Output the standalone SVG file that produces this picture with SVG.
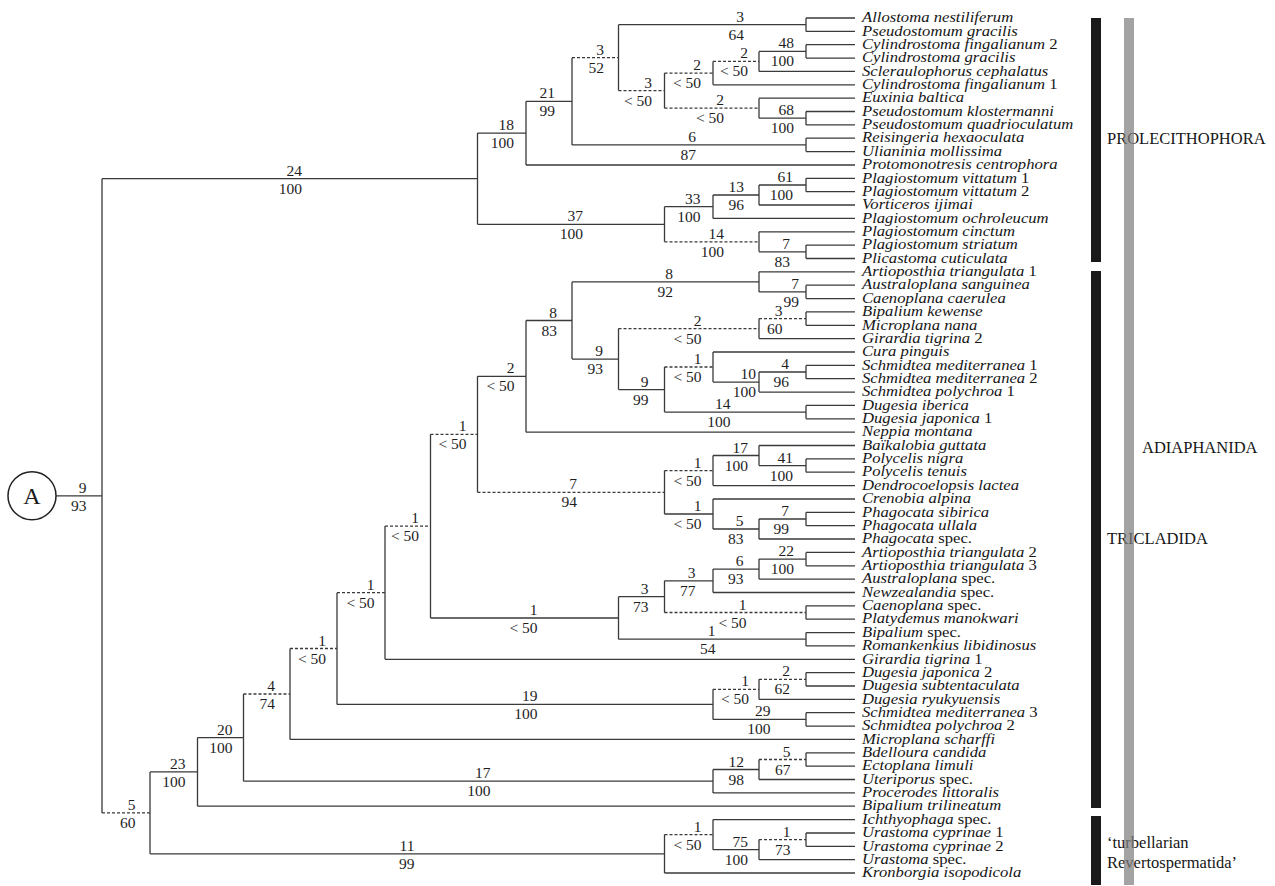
<svg xmlns="http://www.w3.org/2000/svg" width="1275" height="886" viewBox="0 0 1275 886">
<style>
.b{stroke:#3a3a3a;stroke-width:1.3;fill:none}
.d{stroke:#3a3a3a;stroke-width:1.3;fill:none;stroke-dasharray:3 2}
.n{font-family:"Liberation Serif","Times New Roman",serif;font-size:15.5px;fill:#1e1e1e;text-anchor:end}
.s{font-family:"Liberation Serif","Times New Roman",serif;font-size:14px;font-style:italic;fill:#161616}
.r{font-style:normal}
.c{font-family:"Liberation Serif","Times New Roman",serif;font-size:16.5px;fill:#161616}
</style>
<rect width="1275" height="886" fill="#fff"/>
<g id="connectors">
<path class="b" d="M102 178.7V812.9M477.5 133.1V224.3M526 101.3V165M572 57.7V144.9M618.5 24.7V90.6M806 18V31.4M664.5 73.1V108.2M713 61.4V84.8M759 51.4V71.4M806 44.7V58.1M759 98.2V118.2M806 111.5V124.9M806 138.2V151.6M664.5 206.7V241.8M713 195V218.4M759 185V205M806 178.3V191.7M759 231.8V251.8M806 245.1V258.5M150 771.9V853.8M197.5 737.6V806.2M243.5 694V781.2M290 648.5V739.4M337 592.7V704.4M385 526.1V659.3M430.5 434.3V618M477.5 376.3V492.3M526 320.5V432.2M572 281.9V359.1M759 271.8V291.9M806 285.2V298.6M618.5 328.6V389.6M759 318.6V338.6M806 311.9V325.3M664.5 367V412.1M713 352V382.1M759 372V392.1M806 365.4V378.7M806 405.4V418.8M664.5 470.6V514M713 455.5V485.6M759 445.5V465.6M806 458.9V472.2M713 499V529M759 519V539M806 512.3V525.7M618.5 596.7V639.2M664.5 580.8V612.5M713 569.1V592.5M759 559.1V579.1M806 552.4V565.8M806 605.8V619.2M806 632.6V645.9M713 689.3V719.4M759 679.3V699.4M806 672.6V686M806 712.7V726.1M713 769.5V792.9M759 759.5V779.5M806 752.8V766.2M664.5 834.6V873M713 819.6V849.7M759 839.6V859.7M806 833V846.3"/>
<path class="b" d="M56 495.8H102M102 178.7H477.5M477.5 133.1H526M477.5 224.3H664.5M526 101.3H572M526 165H855M572 144.9H806M618.5 24.7H806M713 84.8H855M759 51.4H806M759 71.4H855M759 98.2H855M759 118.2H806M664.5 206.7H713M713 195H759M713 218.4H855M759 185H806M759 205H855M759 231.8H855M759 251.8H806M150 771.9H197.5M150 853.8H664.5M664.5 873H855M713 819.6H855M713 849.7H759M759 859.7H855M197.5 737.6H243.5M197.5 806.2H855M243.5 781.2H713M713 769.5H759M713 792.9H855M759 779.5H855M290 739.4H855M337 704.4H713M713 719.4H806M759 699.4H855M385 659.3H855M430.5 618H618.5M618.5 596.7H664.5M618.5 639.2H806M664.5 580.8H713M713 569.1H759M713 592.5H855M759 559.1H806M759 579.1H855M477.5 376.3H526M664.5 514H713M713 455.5H759M713 485.6H855M759 445.5H855M759 465.6H806M713 499H855M713 529H759M759 519H806M759 539H855M526 320.5H572M526 432.2H855M572 281.9H759M572 359.1H618.5M759 271.8H855M759 291.9H806M759 338.6H855M618.5 389.6H664.5M664.5 412.1H806M713 352H855M713 382.1H759M759 372H806M759 392.1H855"/>
<path class="b" d="M806 18H855M806 31.4H855M806 44.7H855M806 58.1H855M806 111.5H855M806 124.9H855M806 138.2H855M806 151.6H855M806 178.3H855M806 191.7H855M806 245.1H855M806 258.5H855M806 285.2H855M806 298.6H855M806 311.9H855M806 325.3H855M806 365.4H855M806 378.7H855M806 405.4H855M806 418.8H855M806 458.9H855M806 472.2H855M806 512.3H855M806 525.7H855M806 552.4H855M806 565.8H855M806 605.8H855M806 619.2H855M806 632.6H855M806 645.9H855M806 672.6H855M806 686H855M806 712.7H855M806 726.1H855M806 752.8H855M806 766.2H855M806 833H855M806 846.3H855"/>
<path class="d" d="M102 812.9H150M572 57.7H618.5M618.5 90.6H664.5M664.5 73.1H713M713 61.4H759M664.5 108.2H759M664.5 241.8H759M664.5 834.6H713M759 839.6H806M243.5 694H290M759 759.5H806M290 648.5H337M713 689.3H759M759 679.3H806M337 592.7H385M385 526.1H430.5M430.5 434.3H477.5M664.5 612.5H806M477.5 492.3H664.5M664.5 470.6H713M618.5 328.6H759M759 318.6H806M664.5 367H713"/>
</g>
<g id="root-A">
<circle cx="32" cy="495.8" r="24" fill="none" stroke="#222" stroke-width="1.5"/>
<text x="32" y="504" font-family="Liberation Serif, serif" font-size="24" text-anchor="middle" fill="#1a1a1a">A</text>
</g>
<g id="branch-labels" class="n">
<g id="n-R"><text x="86.5" y="492.8">9</text><text x="86.5" y="510.8">93</text></g>
<g id="n-P"><text x="302" y="175.7">24</text><text x="302" y="193.7">100</text></g>
<g id="n-P18"><text x="514" y="130.1">18</text><text x="514" y="148.1">100</text></g>
<g id="n-P21"><text x="555" y="98.3">21</text><text x="555" y="116.3">99</text></g>
<g id="n-P3a"><text x="604" y="54.7">3</text><text x="604" y="72.7">52</text></g>
<g id="n-P3b"><text x="744" y="21.7">3</text><text x="744" y="39.7">64</text></g>
<g id="n-P3c"><text x="652" y="87.6">3</text><text x="652" y="105.6">&lt; 50</text></g>
<g id="n-P2a"><text x="701" y="70.1">2</text><text x="701" y="88.1">&lt; 50</text></g>
<g id="n-P2b"><text x="748" y="58.4">2</text><text x="748" y="76.4">&lt; 50</text></g>
<g id="n-P48"><text x="794" y="48.4">48</text><text x="794" y="66.4">100</text></g>
<g id="n-P2c"><text x="724" y="105.2">2</text><text x="724" y="123.2">&lt; 50</text></g>
<g id="n-P68"><text x="794" y="115.2">68</text><text x="794" y="133.2">100</text></g>
<g id="n-P6"><text x="696" y="141.9">6</text><text x="696" y="159.9">87</text></g>
<g id="n-P37"><text x="583" y="221.3">37</text><text x="583" y="239.3">100</text></g>
<g id="n-P33"><text x="700.5" y="203.7">33</text><text x="700.5" y="221.7">100</text></g>
<g id="n-P13"><text x="744" y="192">13</text><text x="744" y="210">96</text></g>
<g id="n-P61"><text x="793" y="182">61</text><text x="793" y="200">100</text></g>
<g id="n-P14"><text x="724" y="238.8">14</text><text x="724" y="256.8">100</text></g>
<g id="n-P7"><text x="790" y="248.8">7</text><text x="790" y="266.8">83</text></g>
<g id="n-N5"><text x="135.5" y="809.9">5</text><text x="135.5" y="827.9">60</text></g>
<g id="n-N23"><text x="185.5" y="768.9">23</text><text x="185.5" y="786.9">100</text></g>
<g id="n-N20"><text x="232.5" y="734.6">20</text><text x="232.5" y="752.6">100</text></g>
<g id="n-N4"><text x="275" y="691">4</text><text x="275" y="709">74</text></g>
<g id="n-N1a"><text x="326" y="645.5">1</text><text x="326" y="663.5">&lt; 50</text></g>
<g id="n-N1b"><text x="374.5" y="589.7">1</text><text x="374.5" y="607.7">&lt; 50</text></g>
<g id="n-N1c"><text x="419" y="523.1">1</text><text x="419" y="541.1">&lt; 50</text></g>
<g id="n-N1d"><text x="466.5" y="431.3">1</text><text x="466.5" y="449.3">&lt; 50</text></g>
<g id="n-N2"><text x="514.5" y="373.3">2</text><text x="514.5" y="391.3">&lt; 50</text></g>
<g id="n-N8"><text x="557" y="317.5">8</text><text x="557" y="335.5">83</text></g>
<g id="n-N8b"><text x="673" y="278.9">8</text><text x="673" y="296.9">92</text></g>
<g id="n-N7b"><text x="799" y="288.9">7</text><text x="799" y="306.9">99</text></g>
<g id="n-N9"><text x="603" y="356.1">9</text><text x="603" y="374.1">93</text></g>
<g id="n-N2b"><text x="701.5" y="325.6">2</text><text x="701.5" y="343.6">&lt; 50</text></g>
<g id="n-N3"><text x="782.5" y="315.6">3</text><text x="782.5" y="333.6">60</text></g>
<g id="n-N9b"><text x="648.5" y="386.6">9</text><text x="648.5" y="404.6">99</text></g>
<g id="n-N1f"><text x="701.5" y="364">1</text><text x="701.5" y="382">&lt; 50</text></g>
<g id="n-N10"><text x="756" y="379.1">10</text><text x="756" y="397.1">100</text></g>
<g id="n-N4b"><text x="789" y="369">4</text><text x="789" y="387">96</text></g>
<g id="n-N14"><text x="730.5" y="409.1">14</text><text x="730.5" y="427.1">100</text></g>
<g id="n-N7"><text x="577" y="489.3">7</text><text x="577" y="507.3">94</text></g>
<g id="n-C1"><text x="701.5" y="467.6">1</text><text x="701.5" y="485.6">&lt; 50</text></g>
<g id="n-C17"><text x="748" y="452.5">17</text><text x="748" y="470.5">100</text></g>
<g id="n-C41"><text x="793" y="462.6">41</text><text x="793" y="480.6">100</text></g>
<g id="n-C1b"><text x="701.5" y="511">1</text><text x="701.5" y="529">&lt; 50</text></g>
<g id="n-C5"><text x="743.5" y="526">5</text><text x="743.5" y="544">83</text></g>
<g id="n-C7"><text x="789" y="516">7</text><text x="789" y="534">99</text></g>
<g id="n-N1e"><text x="537.5" y="615">1</text><text x="537.5" y="633">&lt; 50</text></g>
<g id="n-T3"><text x="648.5" y="593.7">3</text><text x="648.5" y="611.7">73</text></g>
<g id="n-T3b"><text x="695.5" y="577.8">3</text><text x="695.5" y="595.8">77</text></g>
<g id="n-T6"><text x="743.5" y="566.1">6</text><text x="743.5" y="584.1">93</text></g>
<g id="n-T22"><text x="794" y="556.1">22</text><text x="794" y="574.1">100</text></g>
<g id="n-T1c"><text x="746.5" y="609.5">1</text><text x="746.5" y="627.5">&lt; 50</text></g>
<g id="n-T1"><text x="715.5" y="636.2">1</text><text x="715.5" y="654.2">54</text></g>
<g id="n-N19"><text x="537.5" y="701.4">19</text><text x="537.5" y="719.4">100</text></g>
<g id="n-D1"><text x="749" y="686.3">1</text><text x="749" y="704.3">&lt; 50</text></g>
<g id="n-D2"><text x="790" y="676.3">2</text><text x="790" y="694.3">62</text></g>
<g id="n-D29"><text x="770.5" y="716.4">29</text><text x="770.5" y="734.4">100</text></g>
<g id="n-N17"><text x="490.5" y="778.2">17</text><text x="490.5" y="796.2">100</text></g>
<g id="n-N12"><text x="744" y="766.5">12</text><text x="744" y="784.5">98</text></g>
<g id="n-N5b"><text x="790.5" y="756.5">5</text><text x="790.5" y="774.5">67</text></g>
<g id="n-N11"><text x="414.5" y="850.8">11</text><text x="414.5" y="868.8">99</text></g>
<g id="n-U1"><text x="701.5" y="831.6">1</text><text x="701.5" y="849.6">&lt; 50</text></g>
<g id="n-U75"><text x="748" y="846.7">75</text><text x="748" y="864.7">100</text></g>
<g id="n-U1b"><text x="790.5" y="836.6">1</text><text x="790.5" y="854.6">73</text></g>
</g>
<g id="taxa" class="s" transform="translate(862 0) scale(1.19 1)">
<g id="t1"><text y="22.3">Allostoma nestiliferum</text></g>
<g id="t2"><text y="35.7">Pseudostomum gracilis</text></g>
<g id="t3"><text y="49">Cylindrostoma fingalianum<tspan class="r"> 2</tspan></text></g>
<g id="t4"><text y="62.4">Cylindrostoma gracilis</text></g>
<g id="t5"><text y="75.7">Scleraulophorus cephalatus</text></g>
<g id="t6"><text y="89.1">Cylindrostoma fingalianum<tspan class="r"> 1</tspan></text></g>
<g id="t7"><text y="102.5">Euxinia baltica</text></g>
<g id="t8"><text y="115.8">Pseudostomum klostermanni</text></g>
<g id="t9"><text y="129.2">Pseudostomum quadrioculatum</text></g>
<g id="t10"><text y="142.5">Reisingeria hexaoculata</text></g>
<g id="t11"><text y="155.9">Ulianinia mollissima</text></g>
<g id="t12"><text y="169.3">Protomonotresis centrophora</text></g>
<g id="t13"><text y="182.6">Plagiostomum vittatum<tspan class="r"> 1</tspan></text></g>
<g id="t14"><text y="196">Plagiostomum vittatum<tspan class="r"> 2</tspan></text></g>
<g id="t15"><text y="209.3">Vorticeros ijimai</text></g>
<g id="t16"><text y="222.7">Plagiostomum ochroleucum</text></g>
<g id="t17"><text y="236.1">Plagiostomum cinctum</text></g>
<g id="t18"><text y="249.4">Plagiostomum striatum</text></g>
<g id="t19"><text y="262.8">Plicastoma cuticulata</text></g>
<g id="t20"><text y="276.1">Artioposthia triangulata<tspan class="r"> 1</tspan></text></g>
<g id="t21"><text y="289.5">Australoplana sanguinea</text></g>
<g id="t22"><text y="302.9">Caenoplana caerulea</text></g>
<g id="t23"><text y="316.2">Bipalium kewense</text></g>
<g id="t24"><text y="329.6">Microplana nana</text></g>
<g id="t25"><text y="342.9">Girardia tigrina<tspan class="r"> 2</tspan></text></g>
<g id="t26"><text y="356.3">Cura pinguis</text></g>
<g id="t27"><text y="369.7">Schmidtea mediterranea<tspan class="r"> 1</tspan></text></g>
<g id="t28"><text y="383">Schmidtea mediterranea<tspan class="r"> 2</tspan></text></g>
<g id="t29"><text y="396.4">Schmidtea polychroa<tspan class="r"> 1</tspan></text></g>
<g id="t30"><text y="409.7">Dugesia iberica</text></g>
<g id="t31"><text y="423.1">Dugesia japonica<tspan class="r"> 1</tspan></text></g>
<g id="t32"><text y="436.5">Neppia montana</text></g>
<g id="t33"><text y="449.8">Baïkalobia guttata</text></g>
<g id="t34"><text y="463.2">Polycelis nigra</text></g>
<g id="t35"><text y="476.5">Polycelis tenuis</text></g>
<g id="t36"><text y="489.9">Dendrocoelopsis lactea</text></g>
<g id="t37"><text y="503.3">Crenobia alpina</text></g>
<g id="t38"><text y="516.6">Phagocata sibirica</text></g>
<g id="t39"><text y="530">Phagocata ullala</text></g>
<g id="t40"><text y="543.3">Phagocata<tspan class="r"> spec.</tspan></text></g>
<g id="t41"><text y="556.7">Artioposthia triangulata<tspan class="r"> 2</tspan></text></g>
<g id="t42"><text y="570.1">Artioposthia triangulata<tspan class="r"> 3</tspan></text></g>
<g id="t43"><text y="583.4">Australoplana<tspan class="r"> spec.</tspan></text></g>
<g id="t44"><text y="596.8">Newzealandia<tspan class="r"> spec.</tspan></text></g>
<g id="t45"><text y="610.1">Caenoplana<tspan class="r"> spec.</tspan></text></g>
<g id="t46"><text y="623.5">Platydemus manokwari</text></g>
<g id="t47"><text y="636.9">Bipalium<tspan class="r"> spec.</tspan></text></g>
<g id="t48"><text y="650.2">Romankenkius libidinosus</text></g>
<g id="t49"><text y="663.6">Girardia tigrina<tspan class="r"> 1</tspan></text></g>
<g id="t50"><text y="676.9">Dugesia japonica<tspan class="r"> 2</tspan></text></g>
<g id="t51"><text y="690.3">Dugesia subtentaculata</text></g>
<g id="t52"><text y="703.7">Dugesia ryukyuensis</text></g>
<g id="t53"><text y="717">Schmidtea mediterranea<tspan class="r"> 3</tspan></text></g>
<g id="t54"><text y="730.4">Schmidtea polychroa<tspan class="r"> 2</tspan></text></g>
<g id="t55"><text y="743.7">Microplana scharffi</text></g>
<g id="t56"><text y="757.1">Bdelloura candida</text></g>
<g id="t57"><text y="770.5">Ectoplana limuli</text></g>
<g id="t58"><text y="783.8">Uteriporus<tspan class="r"> spec.</tspan></text></g>
<g id="t59"><text y="797.2">Procerodes littoralis</text></g>
<g id="t60"><text y="810.5">Bipalium trilineatum</text></g>
<g id="t61"><text y="823.9">Ichthyophaga<tspan class="r"> spec.</tspan></text></g>
<g id="t62"><text y="837.3">Urastoma cyprinae<tspan class="r"> 1</tspan></text></g>
<g id="t63"><text y="850.6">Urastoma cyprinae<tspan class="r"> 2</tspan></text></g>
<g id="t64"><text y="864">Urastoma<tspan class="r"> spec.</tspan></text></g>
<g id="t65"><text y="877.3">Kronborgia isopodicola</text></g>
</g>
<g id="groups">
<rect x="1091" y="18" width="10" height="244" fill="#1a1a1a"/>
<rect x="1091" y="271" width="10" height="537" fill="#1a1a1a"/>
<rect x="1091" y="816" width="10" height="69" fill="#1a1a1a"/>
<text class="c" x="1107" y="143.5">PROLECITHOPHORA</text>
<text class="c" x="1142" y="452.7">ADIAPHANIDA</text>
<text class="c" x="1107" y="543.5">TRICLADIDA</text>
<text class="c" x="1107" y="847.5">‘turbellarian</text>
<text class="c" x="1107" y="867.5">Revertospermatida’</text>
<rect x="1124" y="18" width="10" height="867" fill="#808080" fill-opacity="0.72"/>
</g>
</svg>
